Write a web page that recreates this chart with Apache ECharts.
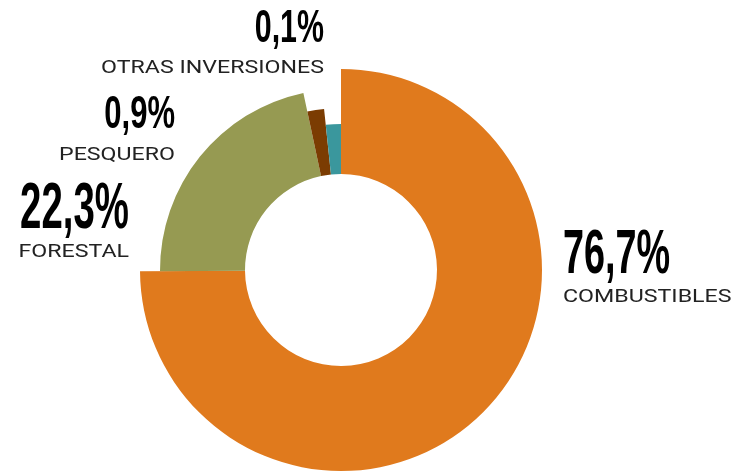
<!DOCTYPE html>
<html>
<head>
<meta charset="utf-8">
<script src="https://cdn.jsdelivr.net/npm/echarts@6/dist/echarts.min.js"></script>
<style>
  html, body { margin: 0; padding: 0; background: #fff; }
  #main { width: 749px; height: 472px; }
</style>
</head>
<body>
<div id="main"></div>
<script>
// sectores y su participación (%)
var sectores = ['COMBUSTIBLES', 'FORESTAL', 'PESQUERO', 'OTRAS INVERSIONES'];
var valores = [76.7, 22.3, 0.9, 0.1];

// estilo de cada sector: color, radio exterior y etiqueta
var colores = ['#e07a1d', '#969a52', '#7b3c02', '#3a979d'];
var radios = [201, 181, 162, 146];
// x = borde de la etiqueta, yv / yn = centro de la cifra / del nombre
var etiquetas = [
  { x: 563, yv: 256, yn: 297, align: 'left', size: 63, sx: 0.6 },
  { x: 129, yv: 210, yn: 252, align: 'right', size: 64, sx: 0.6 },
  { x: 175, yv: 115, yn: 155, align: 'right', size: 47, sx: 0.66 },
  { x: 324, yv: 29, yn: 68, align: 'right', size: 46, sx: 0.66 }
];

function formatoPct (v) {
  return v.toFixed(1).replace('.', ',') + '%';
}

var series = sectores.map(function (nombre, k) {
  return {
    type: 'pie',
    center: [341, 270],
    radius: [96, radios[k]],
    startAngle: 90,
    minAngle: 6,
    silent: true,
    itemStyle: { borderWidth: 0 },
    label: { show: false },
    labelLine: { show: false },
    data: sectores.map(function (s, i) {
      return {
        name: s,
        value: valores[i],
        itemStyle: { color: i === k ? colores[i] : 'transparent' }
      };
    })
  };
});

// cifras en letra condensada + nombre del sector
var textos = [];
sectores.forEach(function (nombre, i) {
  var et = etiquetas[i];
  textos.push({
    type: 'text',
    x: et.x,
    y: et.yv,
    scaleX: et.sx,
    style: {
      text: formatoPct(valores[i]),
      font: 'bold ' + et.size + 'px "Liberation Sans", Arial, sans-serif',
      fill: '#000',
      textAlign: et.align,
      textVerticalAlign: 'middle'
    }
  });
  textos.push({
    type: 'text',
    x: et.x,
    y: et.yn,
    scaleX: 1.22,
    style: {
      text: nombre,
      font: '19px Roboto, "DejaVu Sans", sans-serif',
      fill: '#222',
      textAlign: et.align,
      textVerticalAlign: 'middle'
    }
  });
});

var myChart = echarts.init(document.getElementById('main'));
myChart.setOption({
  animation: false,
  series: series,
  graphic: textos
});
</script>
</body>
</html>
